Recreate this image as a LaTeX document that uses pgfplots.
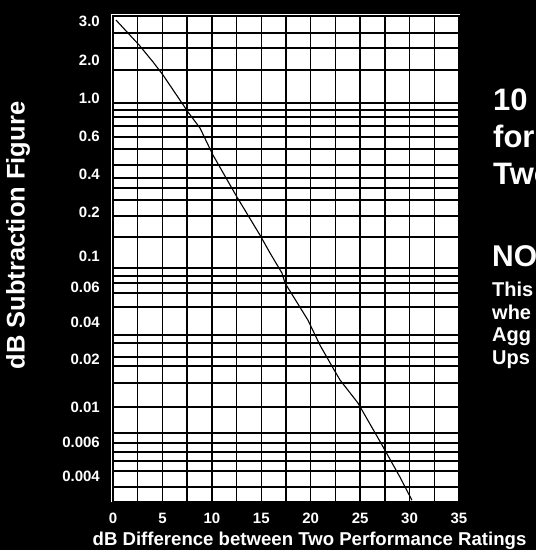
\documentclass[border=0pt]{standalone}
\usepackage{fontspec}
\setmainfont{Liberation Sans}
\usepackage{pgfplots}
\pgfplotsset{compat=1.18}

\begin{document}
\begin{tikzpicture}
\fill[black] (0,0) rectangle (536pt,550pt);
\path[use as bounding box] (0,0) rectangle (536pt,550pt);
% grid, frame and labels (vertical position scale of the printed chart)
\begin{axis}[
  at={(113pt,48pt)}, anchor=south west,
  scale only axis, width=346pt, height=486pt,
  xmin=0, xmax=35, ymin=0, ymax=486,
  axis background/.style={fill=white},
  axis line style={black, line width=1.4pt},
  xtick={0,5,...,35},
  xticklabels={0,5,10,15,20,25,30,35},
  minor xtick={2.5,7.5,...,32.5},
  ytick={469,454,432,399,392,385,376,365,353,337,324,314,302,286,265,234,226,219,209,195,167,159,145,136,119,95,69,59,50,41,31,15},
  yticklabels={},
  grid=both,
  major grid style={black, line width=1.4pt},
  minor grid style={black, line width=1.4pt},
  major tick length=0pt, minor tick length=0pt,
  extra y ticks={481,442,404,366,328,290,246,215,180,143,95,60,26},
  extra y tick labels={3.0,2.0,1.0,0.6,0.4,0.2,0.1,0.06,0.04,0.02,0.01,0.006,0.004},
  extra y tick style={grid=none},
  ticklabel style={white, font=\fontsize{15}{17}\selectfont\bfseries},
  yticklabel style={anchor=east, inner sep=0pt, xshift=-13pt},
  xticklabel style={anchor=base, inner sep=0pt, yshift=-21pt},
  xlabel={dB Difference between Two Performance Ratings},
  xlabel style={white, font=\fontsize{18.6}{20}\selectfont\bfseries,
    at={(rel axis cs:0.568,0)}, anchor=base, inner sep=0pt, yshift=-43pt},
  ylabel={dB Subtraction Figure},
  ylabel style={white, font=\fontsize{25.5}{27}\selectfont\bfseries,
    at={(rel axis cs:-0.2746,0.548)}, anchor=center, inner sep=0pt},
]
\end{axis}
% curve (values in dB, mapped onto the printed chart's scale)
\begin{axis}[
  at={(113pt,48pt)}, anchor=south west,
  scale only axis, width=346pt, height=486pt,
  hide axis, xtick=\empty, ytick=\empty,
  xmin=0, xmax=35, ymin=0.00293, ymax=3.16,
  y coord trafo/.code={%
    \pgfmathparse{ln(#1)}\let\LL=\pgfmathresult
    \pgfmathparse{\LL>0.6931 ? 442+(\LL-0.6931)*96.18 : (\LL>0 ? 404+\LL*54.83 : (\LL>-0.5108 ? 366+(\LL+0.5108)*74.39 : (\LL>-0.9163 ? 328+(\LL+0.9163)*93.71 : (\LL>-1.6094 ? 290+(\LL+1.6094)*54.83 : (\LL>-2.3026 ? 246+(\LL+2.3026)*63.48 : (\LL>-2.8134 ? 215+(\LL+2.8134)*60.69 : (\LL>-3.2189 ? 180+(\LL+3.2189)*86.31 : (\LL>-3.9120 ? 143+(\LL+3.9120)*53.38 : (\LL>-4.6052 ? 95+(\LL+4.6052)*69.25 : (\LL>-5.1160 ? 60+(\LL+5.1160)*68.52 : 26+(\LL+5.5215)*83.85))))))))))}%
  },
]
\addplot[black, line width=1.1pt] coordinates {
  (0.30,3.03) (2.63,2.34) (4.05,1.93) (5.06,1.52) (7.59,0.828) (8.80,0.668)
  (10.11,0.490) (12.54,0.263) (14.87,0.139) (15.88,0.105) (17.09,0.0756)
  (17.40,0.0641) (19.72,0.0409) (20.93,0.026) (22.25,0.0176) (22.96,0.0148)
  (24.78,0.0106) (26.0,0.0078) (27.21,0.0058) (29.03,0.00395) (30.24,0.0030)
};
\end{axis}
% thin white edge along the top and left of the printed grid
\draw[white, line width=1.2pt] (111.6pt,47.5pt) -- (111.6pt,535.6pt) -- (459.5pt,535.6pt);
% side text (cut off at the right edge, as in the original)
\begin{scope}[every node/.style={white, anchor=base west, inner sep=0pt}]
\node[font=\fontsize{31}{33}\selectfont\bfseries] at (493pt,439pt) {10};
\node[font=\fontsize{31}{33}\selectfont\bfseries] at (493pt,402pt) {for};
\node[font=\fontsize{31}{33}\selectfont\bfseries] at (493pt,365pt) {Two};
\node[font=\fontsize{30}{32}\selectfont\bfseries] at (492pt,283pt) {NOTE};
\node[font=\fontsize{20}{22}\selectfont\bfseries] at (492pt,253pt) {This};
\node[font=\fontsize{20}{22}\selectfont\bfseries] at (492pt,230pt) {whe};
\node[font=\fontsize{20}{22}\selectfont\bfseries] at (492pt,208pt) {Agg};
\node[font=\fontsize{20}{22}\selectfont\bfseries] at (492pt,185pt) {Ups};
\end{scope}
\end{tikzpicture}
\end{document}
